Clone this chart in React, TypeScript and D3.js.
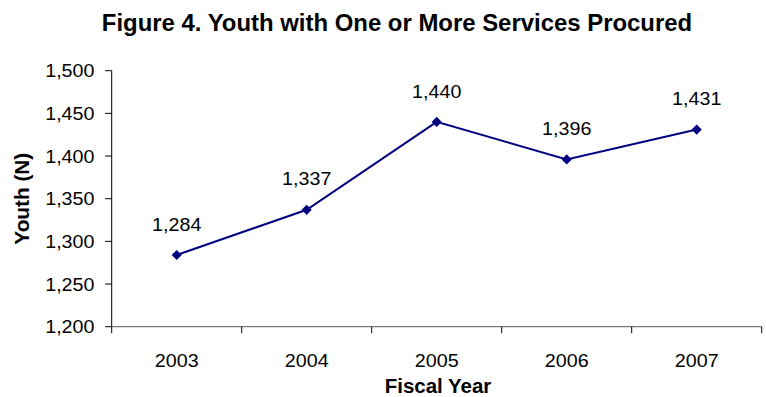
import React from "react";
import * as d3 from "d3";

const years: string[] = ["2003", "2004", "2005", "2006", "2007"];
const youth: number[] = [1284, 1337, 1440, 1396, 1431];
const yTicks: number[] = [1200, 1250, 1300, 1350, 1400, 1450, 1500];
const title = "Figure 4. Youth with One or More Services Procured";
const xTitle = "Fiscal Year";
const yTitle = "Youth (N)";

const W = 766;
const H = 397;
const FONT = "'Liberation Sans', Arial, Helvetica, sans-serif";
const SX = 1.06;

function T({ x, y, anchor, size, weight, sx, children, baseline }: any) {
  return (
    <text
      transform={`translate(${x},${y}) scale(${sx ?? SX},1)`}
      textAnchor={anchor || "middle"}
      dominantBaseline={baseline}
      fontSize={size}
      fontWeight={weight || "normal"}
      fontFamily={FONT}
      fill="#000"
    >
      {children}
    </text>
  );
}

export default function App() {
  const x = d3.scaleBand<string>().domain(years).range([111.7, 761.7]).padding(0);
  const y = d3.scaleLinear().domain([1200, 1500]).range([326.7, 70.7]);
  const cx = (d: string) => (x(d) as number) + x.bandwidth() / 2;
  const pts: [number, number][] = years.map((yr, i) => [cx(yr), y(youth[i])]);
  const line = d3.line()(pts) as string;
  const diamond = d3.symbol(d3.symbolSquare, 52)() as string;
  const fmt = d3.format(",");
  const y0 = y(1200);
  const xl = 111.7;
  const xr = 761.7;
  const boundaries = years.map((yr) => x(yr) as number).concat([xr]);

  return (
    <div style={{ position: "absolute", left: 0, top: 0 }}>
      <svg width={W} height={H} style={{ display: "block", background: "#fff" }}>
        <rect x={0} y={0} width={W} height={H} fill="#fff" />
        <T x={397} y={30.7} size={23} weight="bold" sx={1.04}>{title}</T>

        {/* y axis */}
        <line x1={xl} x2={xl} y1={y(1500)} y2={y0} stroke="#000" strokeWidth={1} />
        {yTicks.map((t) => (
          <g key={t}>
            <line x1={xl - 6.5} x2={xl} y1={y(t)} y2={y(t)} stroke="#000" strokeWidth={1} />
            <T x={94.5} y={y(t) + 6.7} anchor="end" size={18.6}>{fmt(t)}</T>
          </g>
        ))}

        {/* x axis */}
        <line x1={xl} x2={xr} y1={y0} y2={y0} stroke="#555" strokeWidth={1} />
        {boundaries.map((b, i) => (
          <line key={i} x1={b} x2={b} y1={y0} y2={y0 + 6.5} stroke="#000" strokeWidth={1} />
        ))}
        {years.map((yr) => (
          <T key={yr} x={cx(yr)} y={366.7} size={18.6}>{yr}</T>
        ))}

        <T x={438} y={393} size={19.5} weight="bold" sx={1.05}>{xTitle}</T>
        <g transform={`translate(28.7,${(y(1500) + y0) / 2}) rotate(-90)`}>
          <T x={0} y={0} size={20} weight="bold" sx={1.04}>{yTitle}</T>
        </g>

        <path d={line} fill="none" stroke="#000080" strokeWidth={2} />
        {pts.map((p, i) => (
          <g key={i}>
            <path d={diamond} transform={`translate(${p[0]},${p[1]}) rotate(45)`} fill="#000080" />
            <T x={p[0]} y={p[1] - 24.3} size={18.6}>{fmt(youth[i])}</T>
          </g>
        ))}
      </svg>
    </div>
  );
}
